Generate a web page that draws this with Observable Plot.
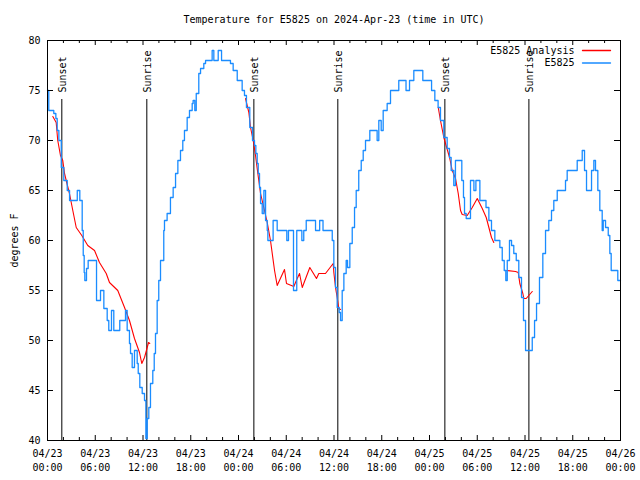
<!DOCTYPE html>
<html>
<head>
<meta charset="utf-8">
<script src="https://cdn.jsdelivr.net/npm/d3@7"></script>
<script src="https://cdn.jsdelivr.net/npm/@observablehq/plot@0.6"></script>
<style>
  body { margin: 0; background: #fff; }
  #chart svg { display: block; }
</style>
</head>
<body>
<div id="chart"></div>
<script>
// Hours since 2024-04-23 00:00 UTC
const obsHours = [0.00,0.16,0.79,1.05,1.22,1.43,1.73,2.05,2.48,2.77,3.31,3.74,4.06,4.36,4.49,4.61,4.69,4.90,5.11,6.16,6.66,7.08,7.50,7.70,8.04,8.33,9.08,9.80,10.01,10.30,10.43,10.64,10.93,11.27,11.40,11.60,11.90,12.19,12.36,12.53,12.73,12.94,13.23,13.41,13.57,13.78,13.98,14.20,14.61,14.70,15.03,15.45,15.79,16.09,16.38,16.71,17.00,17.21,17.55,17.84,18.18,18.30,18.51,18.69,19.01,19.23,19.64,19.86,20.69,20.90,21.45,21.87,22.99,23.33,23.84,24.46,24.75,25.00,25.42,25.76,26.01,26.18,26.35,26.48,26.64,26.77,26.98,27.19,27.40,27.61,27.69,28.35,28.86,30.07,30.28,30.91,31.32,31.96,32.20,32.51,33.68,34.20,34.62,35.78,35.98,36.19,36.40,36.65,36.82,37.03,37.24,37.53,37.70,37.99,38.29,38.58,38.79,39.11,39.42,39.67,39.96,40.50,41.42,41.63,41.93,42.18,42.68,43.10,44.14,45.05,45.49,46.03,47.16,48.26,48.67,49.08,49.38,49.80,50.22,50.51,50.72,51.05,51.26,52.06,52.27,52.40,52.61,53.15,53.58,53.83,54.33,55.10,55.46,55.79,56.21,56.59,56.84,57.14,57.39,57.59,57.77,58.05,58.31,58.59,58.90,59.22,59.56,59.81,60.07,60.91,61.20,61.45,61.82,62.24,62.58,62.99,63.33,63.62,64.05,65.09,65.30,66.56,67.19,67.48,67.73,68.36,68.65,68.86,69.15,69.40,69.70,69.83,70.12,70.46,70.66,70.83,71.66,72.00];
const obsTemps = [75,73,72.7,72.2,71,70,67.3,66,65,64,64,65,64,61,58.5,56.8,56,57.2,58,54,55,53.2,52,51,53,51,52,53,51,49.7,48.7,47.3,49,47.7,46.7,45.3,44.7,44,40.2,42.2,43.3,45.7,47,48.7,50.7,54,56,58,61,62,62.7,64.3,65.3,66.7,68,69,70,71,72.3,73,73.7,74,73,74.7,76.7,77.2,77.7,78,79,78,79,78,77.7,77,76,75,74.5,73.3,71.3,70,69.5,68.7,67.7,66.7,65.3,63.7,62.7,65,62,61,60,62,61,60,61,55,61,60,61,62,61,62,61,60,57.3,55.3,53.3,52.8,52,55,56.7,58,57.3,59.7,61.3,63.3,65,67,68,69,70,71,70,72,71,73,73.7,75,76,75,76,77,76,75,74,73.3,72,70.3,69.2,68.3,67,65.5,68,66,64.3,62.7,62.2,66,65,66,64,63.3,62,61,60,60,59.3,58,57,56,58,60,59.5,58.7,58,56.3,54.3,52,49,50.3,52,53.7,56.3,58.7,61,62,63,64,65,66,67,68,69,67,65,67,68,67,65,63,61,62,61.3,60.5,58.7,57,56,56];

// Analysis series (NaN marks a break in the line)
const anaHours = [0.67,1.09,1.29,1.63,1.92,2.14,2.35,2.76,3.18,3.61,4.31,5.06,5.91,6.53,7.38,7.79,8.83,9.68,10.30,10.93,11.56,11.85,12.19,12.53,12.69,12.85,12.90,
  24.88,25.30,25.51,25.85,26.14,26.43,26.77,27.18,27.61,28.02,28.24,28.53,28.86,29.78,30.03,30.95,31.38,31.67,32.01,32.96,33.80,34.09,34.93,35.90,35.98,36.19,36.40,36.60,36.82,36.90,
  49.10,49.38,49.80,50.52,50.86,51.27,51.61,51.90,52.11,52.74,53.37,54.00,54.63,55.13,55.46,55.79,56.08,56.20,57.68,58.81,59.15,59.35,59.73,59.86,60.15,60.48,60.91];
const anaTemps = [72.4,71.8,70,68.5,68,66.7,66,64.7,63,61.3,60.5,59.5,59,57.8,56.7,55.8,55,53.3,52,50.2,48.8,47.7,48.3,49.3,49.8,49.7,NaN,
  74.2,72.8,71.3,70,68.5,66.7,64.7,63.3,61.8,60,58.7,57,55.5,57.1,55.7,55.4,56.2,56.7,55.3,57.3,56.2,56.7,56.7,57.7,56.8,55.3,54.3,53.2,53.1,NaN,
  73.3,72,70.3,68.3,67,66.2,64.7,63,62.6,62.5,63.3,64.2,63.2,62.3,61.3,60.3,59.8,NaN,57,56.9,56.8,55.7,54.7,54.2,54.2,54.5,54.9];

const eventHours = [1.80, 12.48, 25.93, 36.48, 49.93, 60.49];
const eventLabels = ["Sunset", "Sunrise", "Sunset", "Sunrise", "Sunset", "Sunrise"];

const majorHours = d3.range(0, 73, 6);
const minorHours = d3.range(0, 73, 2).filter(h => h % 6 !== 0);
const tickLabels = ["04/23\n00:00","04/23\n06:00","04/23\n12:00","04/23\n18:00","04/24\n00:00","04/24\n06:00","04/24\n12:00","04/24\n18:00","04/25\n00:00","04/25\n06:00","04/25\n12:00","04/25\n18:00","04/26\n00:00"];
const yTicks = [40, 45, 50, 55, 60, 65, 70, 75, 80];

const seriesNames = ["E5825 Analysis", "E5825"];
const seriesColors = ["#ff0000", "#1a8cff"];
const titleText = "Temperature for E5825 on 2024-Apr-23 (time in UTC)";

const obs = obsHours.map((h, i) => ({h, t: obsTemps[i]}));
const ana = anaHours.map((h, i) => ({h, t: anaTemps[i]}));

const lineShape = { draw(context, l) { context.moveTo(0, 0); context.lineTo(0, -l); } };

const W = 640, H = 480, ML = 47, MR = 20, MT = 40, MB = 40;
const FW = W - ML - MR, FH = H - MT - MB;

// Legend entries (text + line sample), one pair per series, each on its own row
const legendMarks = seriesNames.map((name, i) => [
  Plot.text([name], {text: d => d, frameAnchor: "top-right", dx: -46, dy: 10 + i * 12.5,
    textAnchor: "end", lineAnchor: "middle", fill: "#000", fontSize: 10}),
  Plot.vector([name], {frameAnchor: "top-right", dx: -10, dy: 10 + i * 12.5, length: 28, rotate: 90, anchor: "end",
    shape: lineShape, stroke: seriesColors[i], strokeWidth: 1.3})
]).flat();

const chart = Plot.plot({
  width: W, height: H,
  marginLeft: ML, marginRight: MR, marginTop: MT, marginBottom: MB,
  style: {fontFamily: "'DejaVu Sans Mono', monospace", fontSize: "10px", background: "#fff", color: "#000"},
  x: {domain: [0, 72]},
  y: {domain: [40, 80]},
  marks: [
    // sunrise / sunset rules and labels
    Plot.ruleX(eventHours, {x: d => d, insetTop: 59, stroke: "#000", strokeWidth: 1}),
    Plot.text(eventLabels, {x: (d, i) => eventHours[i], text: d => d, frameAnchor: "top", dy: 52, dx: 1,
      rotate: -90, textAnchor: "start", lineAnchor: "middle", fontSize: 10, fill: "#000"}),
    // series
    Plot.line(ana, {x: "h", y: "t", stroke: seriesColors[0], strokeWidth: 1.1}),
    Plot.line(obs, {x: "h", y: "t", stroke: seriesColors[1], strokeWidth: 1.3, curve: "step-after"}),
    // inward ticks (bottom, top, left, right)
    Plot.tickX(majorHours, {x: d => d, insetTop: FH - 5, stroke: "#000"}),
    Plot.tickX(minorHours, {x: d => d, insetTop: FH - 3, stroke: "#000"}),
    Plot.tickX(majorHours, {x: d => d, insetBottom: FH - 5, stroke: "#000"}),
    Plot.tickX(minorHours, {x: d => d, insetBottom: FH - 3, stroke: "#000"}),
    Plot.tickY(yTicks, {y: d => d, insetRight: FW - 6, stroke: "#000"}),
    Plot.tickY(yTicks, {y: d => d, insetLeft: FW - 6, stroke: "#000"}),
    // axis labels
    Plot.axisX(majorHours, {tickSize: 0, tickPadding: 7, lineHeight: 1.4,
      tickFormat: d => tickLabels[majorHours.indexOf(d)], label: null}),
    Plot.axisY(yTicks, {tickSize: 0, tickPadding: 7, label: "degrees F", labelAnchor: "center",
      labelArrow: "none", labelOffset: 37}),
    Plot.frame({stroke: "#000", strokeWidth: 1}),
    ...legendMarks,
    // title
    Plot.text([titleText], {text: d => d, frameAnchor: "top", dy: -21, lineAnchor: "middle", fontSize: 10, fill: "#000"})
  ]
});

document.getElementById("chart").append(chart);
</script>
</body>
</html>
